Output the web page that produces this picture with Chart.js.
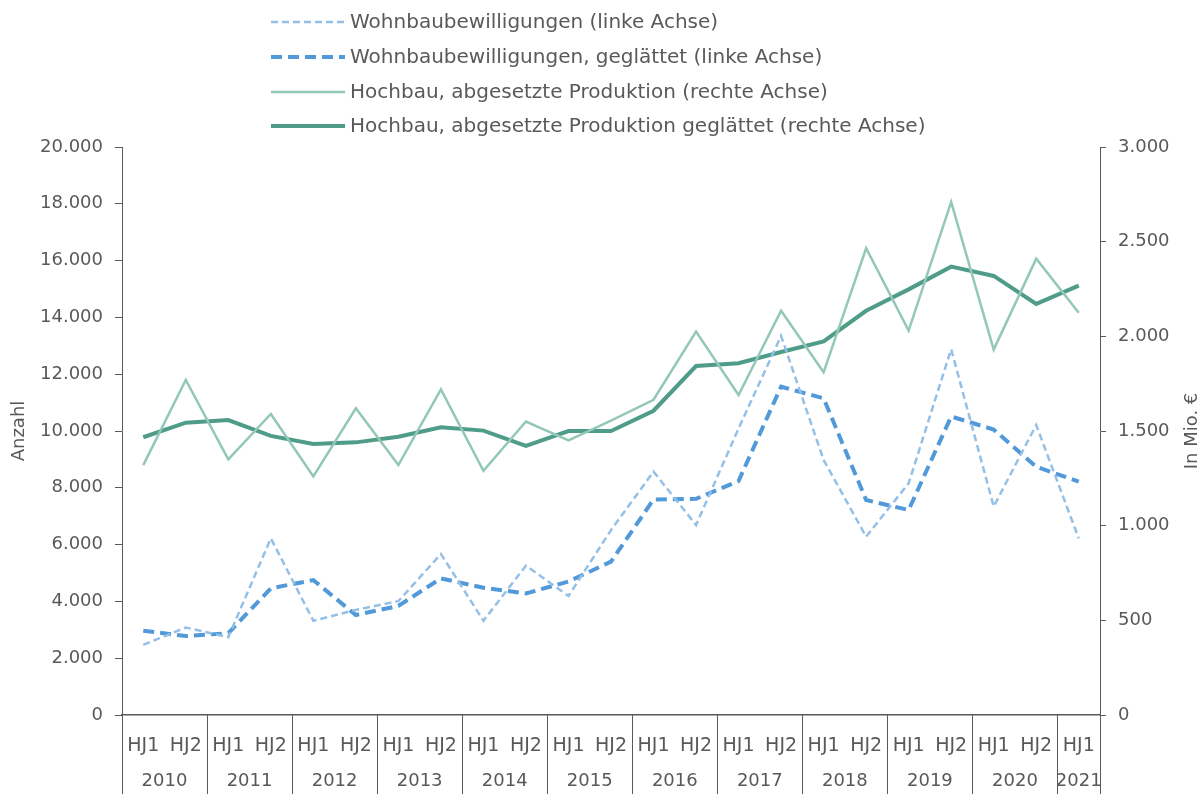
<!DOCTYPE html>
<html lang="de">
<head>
<meta charset="utf-8">
<title>Wohnbaubewilligungen und Hochbau</title>
<script src="https://cdn.jsdelivr.net/npm/chart.js@4.4.1/dist/chart.umd.min.js"></script>
<style>
    html, body { margin: 0; padding: 0; background: #ffffff; }
    canvas { display: block; }
</style>
</head>
<body>
<canvas id="chart" width="1204" height="794"></canvas>
<script>
//---------------------------------------------------------------------//
//-----------------------------DATA ZONE-------------------------------//
//---------------------------------------------------------------------//
const halfYears = ['HJ1', 'HJ2', 'HJ1', 'HJ2', 'HJ1', 'HJ2', 'HJ1', 'HJ2', 'HJ1', 'HJ2', 'HJ1', 'HJ2',
    'HJ1', 'HJ2', 'HJ1', 'HJ2', 'HJ1', 'HJ2', 'HJ1', 'HJ2', 'HJ1', 'HJ2', 'HJ1'];
const years = ['2010', '2011', '2012', '2013', '2014', '2015', '2016', '2017', '2018', '2019', '2020', '2021'];

// Wohnbaubewilligungen (Anzahl, linke Achse)
const wohnbau = [2470, 3080, 2740, 6220, 3320, 3700, 4010, 5670, 3320, 5260, 4190, 6510,
    8570, 6690, 10090, 13350, 8980, 6280, 8160, 12880, 7340, 10210, 6220];
const wohnbauGlatt = [2970, 2780, 2880, 4460, 4750, 3520, 3840, 4810, 4480, 4280, 4700, 5400,
    7590, 7610, 8240, 11560, 11150, 7570, 7220, 10510, 10050, 8740, 8220];

// Hochbau, abgesetzte Produktion (Mio. €, rechte Achse)
const hochbau = [1320, 1770, 1350, 1590, 1260, 1620, 1320, 1720, 1290, 1550, 1450, 1555,
    1665, 2025, 1690, 2135, 1810, 2465, 2030, 2710, 1930, 2410, 2125];
const hochbauGlatt = [1467, 1544, 1558, 1474, 1431, 1440, 1470, 1520, 1502, 1421, 1500, 1500,
    1607, 1843, 1858, 1917, 1973, 2135, 2248, 2368, 2319, 2171, 2268];

const leftTicks = { min: 0, max: 20000, step: 2000 };
const rightTicks = { min: 0, max: 3000, step: 500 };

//---------------------------------------------------------------------//
//----------------------------STYLE ZONE-------------------------------//
//---------------------------------------------------------------------//
const FONT = '"DejaVu Sans", sans-serif';
const TEXT = '#595959';
const AXIS = '#595959';

function fmt(v) {
    return v.toLocaleString('de-DE');
}

// legend, year row, separators and right title
const extrasPlugin = {
    id: 'extras',
    afterDraw(chart) {
        const ctx = chart.ctx;
        const x = chart.scales.x;
        const area = chart.chartArea;
        const step = (area.right - area.left) / halfYears.length;

        ctx.save();
        // year separators under the axis
        ctx.strokeStyle = AXIS;
        ctx.lineWidth = 1;
        for (let k = 0; k <= years.length; k++) {
            let px = k < years.length ? x.getPixelForValue(2 * k) - step / 2 : area.right;
            px = Math.round(px) + 0.5;
            ctx.beginPath();
            ctx.moveTo(px, area.bottom);
            ctx.lineTo(px, chart.height);
            ctx.stroke();
        }
        // year labels
        ctx.fillStyle = TEXT;
        ctx.font = '18px ' + FONT;
        ctx.textAlign = 'center';
        ctx.textBaseline = 'middle';
        years.forEach((yr, k) => {
            const a = 2 * k;
            const b = Math.min(2 * k + 1, halfYears.length - 1);
            const cx = (x.getPixelForValue(a) + x.getPixelForValue(b)) / 2;
            ctx.fillText(yr, cx, 781);
        });

        // right axis title, reading bottom to top
        ctx.save();
        ctx.translate(1192, (area.top + area.bottom) / 2);
        ctx.rotate(-Math.PI / 2);
        ctx.fillText('In Mio. €', 0, 0);
        ctx.restore();

        // legend, one row per dataset
        const rows = [22, 57, 92, 126];
        ctx.textAlign = 'left';
        ctx.font = '20px ' + FONT;
        chart.data.datasets.forEach((ds, i) => {
            const y = rows[i];
            ctx.beginPath();
            ctx.strokeStyle = ds.borderColor;
            ctx.lineWidth = ds.borderWidth;
            ctx.setLineDash(ds.borderDash || []);
            ctx.moveTo(271, y);
            ctx.lineTo(345, y);
            ctx.stroke();
            ctx.setLineDash([]);
            ctx.fillStyle = TEXT;
            ctx.fillText(ds.label, 350, y + 1);
        });
        ctx.restore();
    }
};

//---------------------------------------------------------------------//
//----------------------------CHART ZONE-------------------------------//
//---------------------------------------------------------------------//
document.addEventListener('DOMContentLoaded', () => {
    const ctx = document.getElementById('chart').getContext('2d');

    new Chart(ctx, {
        type: 'line',
        data: {
            labels: halfYears,
            datasets: [{
                label: 'Wohnbaubewilligungen (linke Achse)',
                data: wohnbau,
                yAxisID: 'y',
                borderColor: '#94c0e8',
                borderWidth: 2.5,
                borderDash: [7, 4]
            }, {
                label: 'Wohnbaubewilligungen, geglättet (linke Achse)',
                data: wohnbauGlatt,
                yAxisID: 'y',
                borderColor: '#5199d9',
                borderWidth: 4,
                borderDash: [11, 6]
            }, {
                label: 'Hochbau, abgesetzte Produktion (rechte Achse)',
                data: hochbau,
                yAxisID: 'y1',
                borderColor: '#93c8b6',
                borderWidth: 2.5
            }, {
                label: 'Hochbau, abgesetzte Produktion geglättet (rechte Achse)',
                data: hochbauGlatt,
                yAxisID: 'y1',
                borderColor: '#4f9c88',
                borderWidth: 4
            }]
        },
        options: {
            responsive: false,
            animation: false,
            layout: { padding: { top: 147, left: 0, right: 0, bottom: 0 } },
            elements: {
                point: { radius: 0, hoverRadius: 0 },
                line: { tension: 0, borderJoinStyle: 'miter', fill: false }
            },
            plugins: {
                legend: { display: false },
                tooltip: { enabled: false }
            },
            scales: {
                x: {
                    type: 'category',
                    offset: true,
                    grid: { display: false, drawTicks: false },
                    border: { display: true, color: AXIS, width: 1.5 },
                    ticks: {
                        color: TEXT, font: { family: FONT, size: 19 },
                        padding: 20, maxRotation: 0, autoSkip: false
                    },
                    afterFit: (scale) => { scale.height = 79; }
                },
                y: {
                    position: 'left',
                    min: leftTicks.min,
                    max: leftTicks.max,
                    grid: { drawOnChartArea: false, drawTicks: true, tickLength: 7, color: AXIS },
                    border: { display: true, color: AXIS },
                    ticks: {
                        stepSize: leftTicks.step,
                        color: TEXT, font: { family: FONT, size: 18 },
                        padding: 12,
                        callback: (v) => fmt(v)
                    },
                    title: {
                        display: true, text: 'Anzahl', color: TEXT,
                        font: { family: FONT, size: 18 },
                        padding: { top: 9, bottom: 0 }
                    },
                    afterFit: (scale) => { scale.width = 122; }
                },
                y1: {
                    position: 'right',
                    min: rightTicks.min,
                    max: rightTicks.max,
                    grid: { drawOnChartArea: false, drawTicks: true, tickLength: 6, color: AXIS },
                    border: { display: true, color: AXIS },
                    ticks: {
                        stepSize: rightTicks.step,
                        color: TEXT, font: { family: FONT, size: 18 },
                        padding: 12,
                        callback: (v) => fmt(v)
                    },
                    afterFit: (scale) => { scale.width = 104; }
                }
            }
        },
        plugins: [extrasPlugin]
    });
});
</script>
</body>
</html>
